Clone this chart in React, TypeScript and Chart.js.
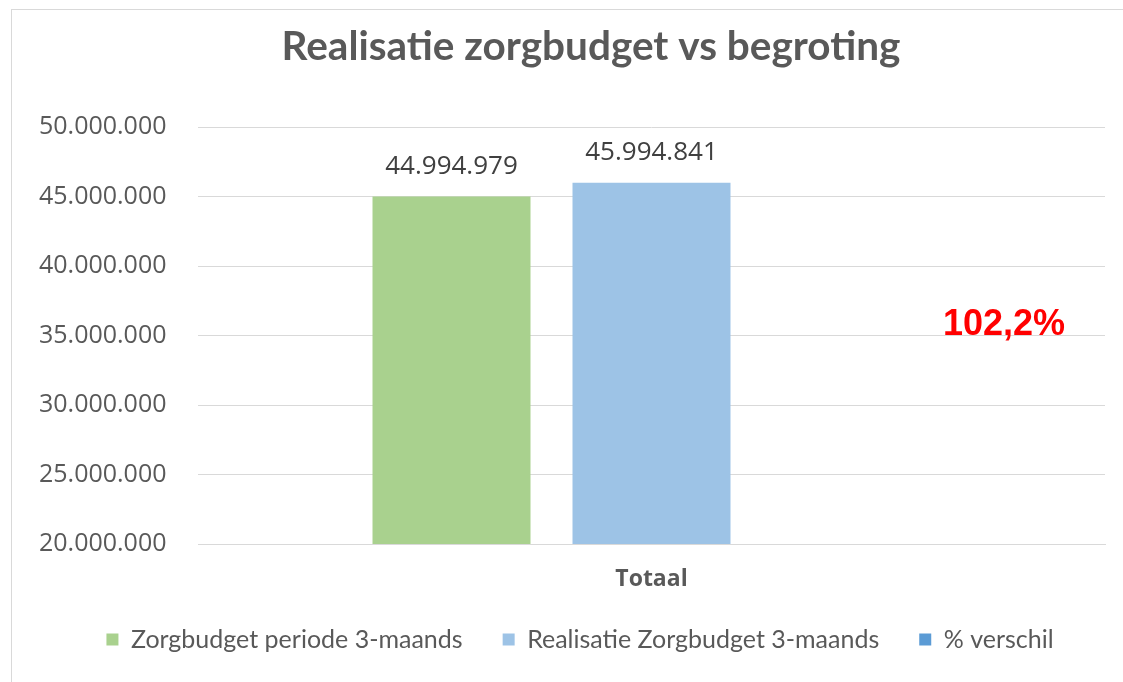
import React, { useEffect, useRef } from "react";
import { Chart, registerables } from "chart.js";

Chart.register(...registerables);

const chartTitle = "Realisatie zorgbudget vs begroting";
const categories = ["Totaal"];
const seriesNames = ["Zorgbudget periode 3-maands", "Realisatie Zorgbudget 3-maands", "% verschil"];
const budgetValues = [44994979];
const realisatieValues = [45994841];
const verschilPct = [102.2];
const seriesColors = ["#A9D18E", "#9DC3E6", "#5B9BD5"];
const yMin = 20000000;
const yMax = 50000000;
const yStep = 5000000;
const pctLabelY = 35750000;

const fmt = (n: number) => Math.round(n).toString().replace(/\B(?=(\d{3})+(?!\d))/g, ".");
const fmtPct = (n: number) => n.toFixed(1).replace(".", ",") + "%";

const labelsPlugin = {
  id: "valueLabels",
  afterDatasetsDraw(chart: any) {
    const ctx = chart.ctx;
    ctx.save();
    ctx.font = "26px 'Open Sans'";
    ctx.fillStyle = "#404040";
    ctx.textAlign = "center";
    ctx.textBaseline = "middle";
    [0, 1].forEach((di) => {
      const meta = chart.getDatasetMeta(di);
      meta.data.forEach((el: any, i: number) => {
        const v = chart.data.datasets[di].data[i];
        ctx.fillText(fmt(v), el.x, el.y - 30);
      });
    });
    const area = chart.chartArea;
    const y = chart.scales.y.getPixelForValue(pctLabelY);
    ctx.font = "bold 36px 'Liberation Sans'";
    ctx.fillStyle = "#FF0000";
    ctx.fillText(fmtPct(verschilPct[0]), area.right - 101, y);
    // title
    ctx.font = "bold 40.5px 'Lato'";
    ctx.fillStyle = "#595959";
    ctx.fillText(chartTitle, 579, 37);
    ctx.restore();
  },
};

const W = 1111;
const H = 672;

export default function App() {
  const ref = useRef<HTMLCanvasElement>(null);
  useEffect(() => {
    if (!ref.current) return;
    const chart = new Chart(ref.current, {
      type: "bar",
      data: {
        labels: categories,
        datasets: [
          { label: seriesNames[0], data: budgetValues, backgroundColor: seriesColors[0], yAxisID: "y" },
          { label: seriesNames[1], data: realisatieValues, backgroundColor: seriesColors[1], yAxisID: "y" },
          { label: seriesNames[2], data: verschilPct, backgroundColor: seriesColors[2], yAxisID: "yPct" },
        ],
      },
      options: {
        responsive: false,
        animation: false,
        layout: { padding: { left: 43, right: 18, top: 117, bottom: 20 } },
        datasets: { bar: { categoryPercentage: 0.6615, barPercentage: 0.79 } },
        plugins: {
          title: { display: false },
          legend: {
            position: "bottom",
            labels: {
              color: "#595959",
              font: { family: "Lato", size: 25 },
              boxWidth: 12,
              boxHeight: 12,
              padding: 40,
            },
          },
          tooltip: { enabled: false },
        },
        scales: {
          x: {
            grid: { display: false, drawTicks: false },
            border: { display: true, color: "#d9d9d9" },
            ticks: { color: "#595959", font: { family: "Open Sans", size: 23, weight: "bold" }, padding: 22 },
            afterFit: (s: any) => { s.height = 43; },
          },
          y: {
            min: yMin,
            max: yMax,
            grid: { color: "#d9d9d9", drawTicks: false },
            border: { display: false },
            ticks: {
              stepSize: yStep,
              color: "#595959",
              font: { family: "Open Sans", size: 25 },
              mirror: true,
              crossAlign: "near",
              padding: -159,
              callback: (v: any) => fmt(Number(v)),
            },
            afterFit: (s: any) => { s.width = 143; },
          },
          yPct: { display: false, min: 1000, max: 2000 },
        },
      },
      plugins: [labelsPlugin],
    });
    return () => chart.destroy();
  }, []);
  return (
    <div
      style={{
        position: "absolute",
        left: 11,
        top: 9,
        width: 1112,
        height: 673,
        overflow: "hidden",
        borderLeft: "1px solid #d9d9d9",
        borderTop: "1px solid #d9d9d9",
        background: "#fff",
      }}
    >
      <canvas ref={ref} width={W} height={H} style={{ display: "block", width: W, height: H }} />
    </div>
  );
}
